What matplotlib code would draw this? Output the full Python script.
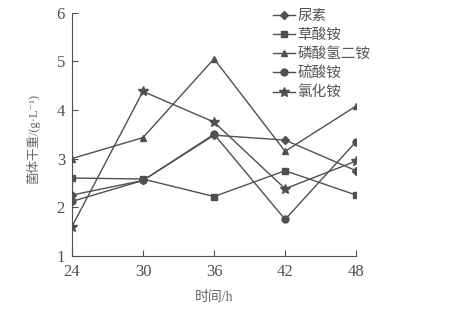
import matplotlib.pyplot as plt

plt.rcParams['font.family'] = ['Liberation Serif', 'Noto Sans CJK SC', 'DejaVu Serif']

hours = [24, 30, 36, 42, 48]
urea = [2.25, 2.55, 3.48, 3.38, 2.75]
oxalate = [2.6, 2.58, 2.22, 2.75, 2.25]
dap = [3.0, 3.43, 5.05, 3.15, 4.08]
sulfate = [2.12, 2.55, 3.5, 1.75, 3.35]
chloride = [1.6, 4.38, 3.75, 2.38, 2.95]

names = ['尿素', '草酸铵', '磷酸氢二铵', '硫酸铵', '氯化铵']
markers = ['D', 's', '^', 'o', '*']
sizes = [4, 5, 5, 5, 7]
series = [urea, oxalate, dap, sulfate, chloride]

ink = '#505050'
fig = plt.figure(figsize=(4.73, 3.14), dpi=100)
ax = fig.add_axes([0.152, 0.185, 0.601, 0.775])

for vals, name, mk, ms in zip(series, names, markers, sizes):
    ax.plot(hours, vals, color=ink, marker=mk, markersize=ms, linewidth=1.0,
            label=name)

ax.set_xlim(24, 48)
ax.set_ylim(1, 6)
ax.set_xticks(hours)
ax.set_yticks([1, 2, 3, 4, 5, 6])
ax.tick_params(direction='in', colors=ink, labelsize=12, length=4)
ax.tick_params(axis='x', pad=6)
ax.tick_params(axis='y', pad=5)
for s in ['top', 'right']:
    ax.spines[s].set_visible(False)
for s in ['left', 'bottom']:
    ax.spines[s].set_color(ink)

ax.set_xlabel('时间/h', color='#666666', fontsize=10, labelpad=8)
ax.set_ylabel('菌体干重/(g·L⁻¹)', color='#666666', fontsize=9)
ax.yaxis.set_label_coords(-0.11, 0.48)

leg = ax.legend(loc='upper left', bbox_to_anchor=(0.66, 1.07), frameon=False,
                handlelength=1.5, handletextpad=0.2, labelspacing=0.36,
                prop={'family': ['Noto Sans CJK SC'], 'size': 10.5})
for t in leg.get_texts():
    t.set_color('#555555')

fig.savefig('out.png', dpi=100)
